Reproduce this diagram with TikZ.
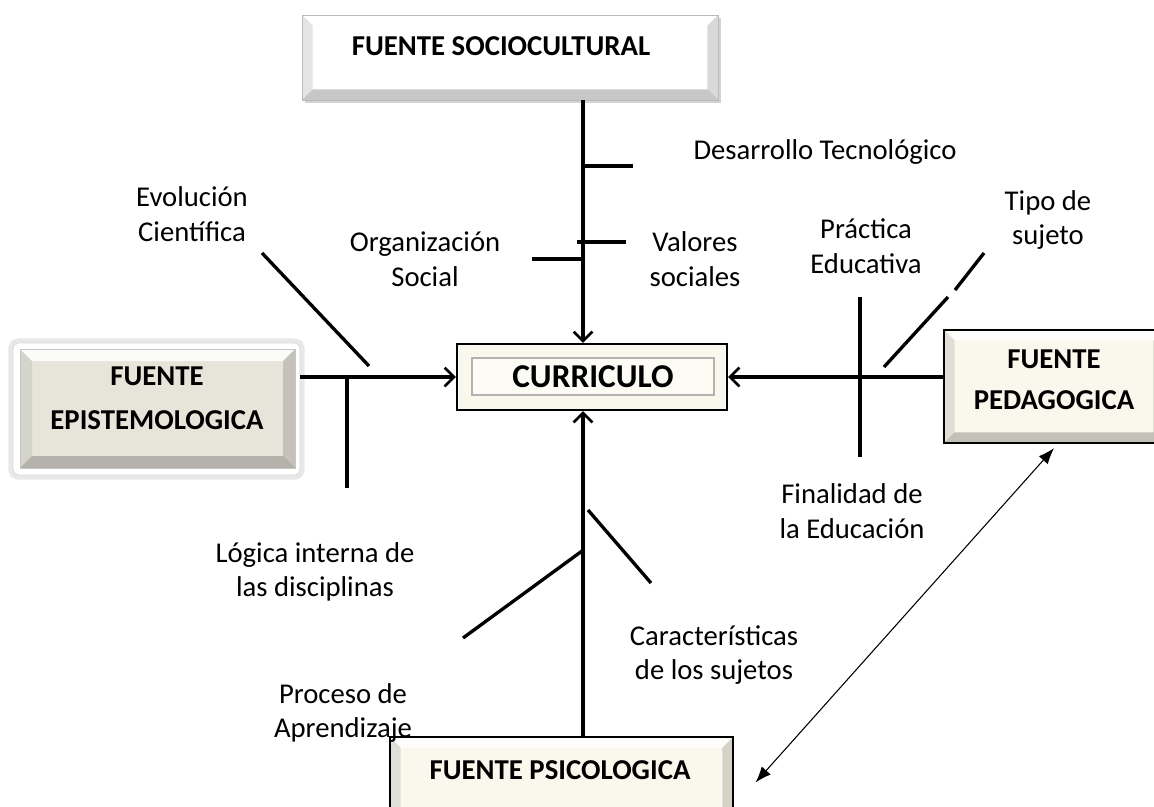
\documentclass[tikz,border=0pt]{standalone}
\usepackage{fontspec}
\setmainfont{Carlito}
\usetikzlibrary{arrows.meta,calc,shadows}
\definecolor{cream}{HTML}{FAF8EC}
\definecolor{epigray}{HTML}{E7E5DA}
\begin{document}
\begin{tikzpicture}[x=0.75pt,y=-0.75pt,
  lbl/.style={font=\fontsize{21.5}{26}\selectfont, align=center, inner sep=0pt},
  boxtxt/.style={font=\fontsize{21.6}{31}\selectfont\bfseries, align=center, inner sep=0pt},
  main/.style={line width=2.5pt},
  arr/.style={main, -{Straight Barb[length=7pt,width=14pt,line width=2pt]}},
  dbl/.style={line width=0.8pt, {Latex[length=12pt,width=9pt]}-{Latex[length=12pt,width=9pt]}},
  bevel/.style={path picture={
    \coordinate (pnw) at (path picture bounding box.north west);
    \coordinate (pne) at (path picture bounding box.north east);
    \coordinate (psw) at (path picture bounding box.south west);
    \coordinate (pse) at (path picture bounding box.south east);
    \fill[white,opacity=.85] (pnw) -- (pne) -- ($(pne)+(-#1,-#1)$) -- ($(pnw)+(#1,-#1)$) -- cycle;
    \fill[black!30,opacity=.35] (pnw) -- ($(pnw)+(#1,-#1)$) -- ($(psw)+(#1,#1)$) -- (psw) -- cycle;
    \fill[black,opacity=.22] (psw) -- ($(psw)+(#1,#1)$) -- ($(pse)+(-#1,#1)$) -- (pse) -- cycle;
    \fill[black,opacity=.15] (pse) -- ($(pse)+(-#1,#1)$) -- ($(pne)+(-#1,-#1)$) -- (pne) -- cycle;
  }},
  socbox/.style={draw=gray!55, line width=0.6pt, fill=white, bevel=8pt,
    drop shadow={shadow xshift=2pt, shadow yshift=-2pt, opacity=.35}},
  creambox/.style={draw=black, line width=1.8pt, fill=cream, bevel=8pt},
]
\useasboundingbox (0,0) rectangle (1154,807);

% ---- boxes ----
\node[socbox, minimum width=312pt, minimum height=63.75pt] (soc) at (510,57.5) {};
\node[boxtxt] (soct) at (501,46) {FUENTE SOCIOCULTURAL};

\node[draw=gray!30, line width=0.6pt, fill=white, rounded corners=4pt,
      preaction={draw=gray!18, line width=7pt, rounded corners=4pt},
      minimum width=215.25pt, minimum height=99pt] (epi) at (156.5,409) {};
\node[fill=epigray, draw=gray!45, line width=0.5pt, bevel=9pt,
      minimum width=206.25pt, minimum height=89.25pt] (epiin) at (157.5,408.5) {};
\node[boxtxt, font=\fontsize{21.6}{33}\selectfont\bfseries] (epit) at (157,398) {FUENTE\\EPISTEMOLOGICA};

\node[draw=black, line width=1.8pt, fill=cream, minimum width=202.5pt, minimum height=49.5pt] (cur) at (592,377) {};
\node[draw=gray!60, line width=0.8pt, fill=cream!60!white, minimum width=181.5pt, minimum height=27.75pt,
      font=\fontsize{25}{30}\selectfont\bfseries, inner sep=0pt] (curt) at (593,376.5) {CURRICULO};

\node[creambox, minimum width=165pt, minimum height=84.75pt] (ped) at (1054,386.5) {};
\node[boxtxt] (pedt) at (1054,380) {FUENTE\\PEDAGOGICA};

\node[creambox, minimum width=257.25pt, minimum height=62.25pt] (psi) at (561.5,778.5) {};
\node[boxtxt] (psit) at (560,770) {FUENTE PSICOLOGICA};

% ---- labels ----
\node[lbl] (l1) at (825,152) {Desarrollo Tecnológico};
\node[lbl] (l2) at (192,214) {Evolución\\Científica};
\node[lbl] (l3) at (425,259) {Organización\\Social};
\node[lbl] (l4) at (695,259) {Valores\\sociales};
\node[lbl] (l5) at (866,246) {Práctica\\Educativa};
\node[lbl] (l6) at (1048,220) {Tipo de\\sujeto};
\node[lbl] (l7) at (315,572) {Lógica interna de\\las disciplinas};
\node[lbl] (l8) at (852,511) {Finalidad de\\la Educación};
\node[lbl] (l9) at (714,655) {Características\\de los sujetos};
\node[lbl] (l10) at (343,713) {Proceso de\\Aprendizaje};

% ---- axis coordinates ----
\coordinate (vx) at (583,0);
\coordinate (hy) at (0,377);

% top trunk and branches
\draw[arr] (soc.south -| vx) -- (cur.north -| vx);
\coordinate (t1) at (583,166); \coordinate (t1e) at (633,166);
\coordinate (t2) at (577,242); \coordinate (t2e) at (626,242);
\coordinate (t3) at (583,259); \coordinate (t3e) at (532,259);
\draw[main] (t1) -- (t1e);
\draw[main] (t2) -- (t2e);
\draw[main] (t3) -- (t3e);

% left trunk and branches
\draw[arr] (epi.east |- hy) -- (cur.west |- hy);
\coordinate (e1) at (262,253); \coordinate (e1e) at (369,366);
\coordinate (e2) at (347,379); \coordinate (e2e) at (347,488);
\draw[main] (e1) -- (e1e);
\draw[main] (e2) -- (e2e);

% right trunk and branches
\draw[arr] (ped.west |- hy) -- (cur.east |- hy);
\coordinate (p1) at (860,297); \coordinate (p1e) at (860,457);
\coordinate (p2) at (884,367); \coordinate (p2m) at (948,297);
\coordinate (p2n) at (955,290); \coordinate (p2e) at (984,253);
\draw[main] (p1) -- (p1e);
\draw[main] (p2) -- (p2m);
\draw[main] (p2n) -- (p2e);

% bottom trunk and branches
\draw[arr] (psi.north -| vx) -- (cur.south -| vx);
\coordinate (s1) at (582,551); \coordinate (s1e) at (463,638);
\coordinate (s2) at (588,510); \coordinate (s2e) at (651,583);
\draw[main] (s1) -- (s1e);
\draw[main] (s2) -- (s2e);

% double arrow
\draw[dbl] ([yshift=-3pt]ped.south) -- ([xshift=16pt,yshift=-3pt]psi.east);
\end{tikzpicture}
\end{document}
